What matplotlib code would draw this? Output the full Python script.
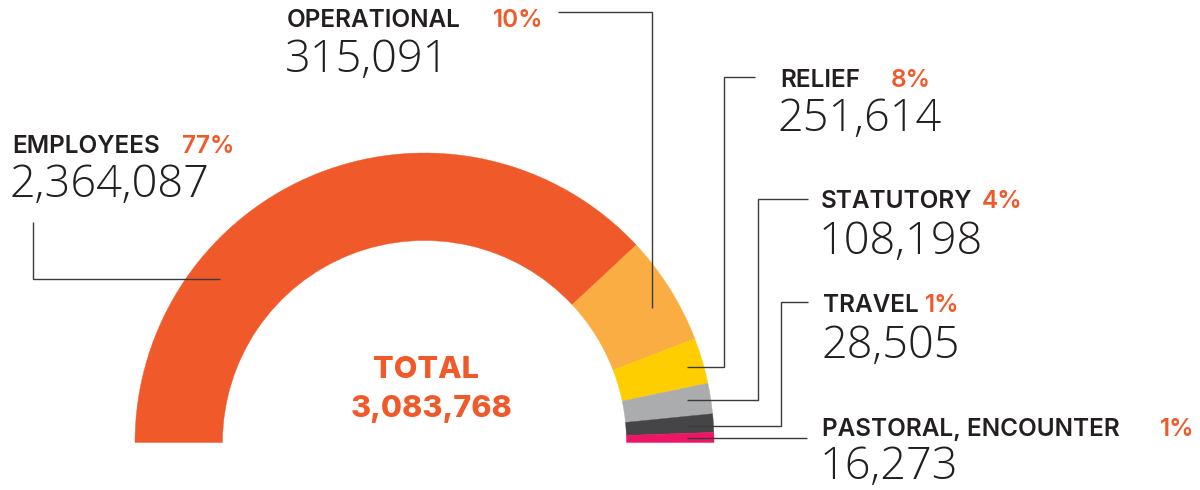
import matplotlib
matplotlib.use("Agg")
import matplotlib.pyplot as plt
from matplotlib.patches import Wedge

# ---- data ----
categories = ["EMPLOYEES", "OPERATIONAL", "RELIEF", "STATUTORY", "TRAVEL", "PASTORAL, ENCOUNTER"]
values = [2364087, 315091, 251614, 108198, 28505, 16273]
pct_labels = ["77%", "10%", "8%", "4%", "1%", "1%"]
# arc sizes as drawn in the reference (degrees, small segments enlarged)
arc_degrees = [137.0, 22.0, 9.2, 6.1, 3.7, 2.0]
total_label = "TOTAL"
total_value = sum(values)

colors = ["#F05A2A", "#FAAD42", "#FFCE00", "#ABACAE", "#454547", "#ED1566"]
DARK = "#231F20"
ORANGE = "#F05A2A"
LINE = "#3A3A3A"

W, H = 1200, 490
fig = plt.figure(figsize=(12, 4.9), dpi=100)
ax = fig.add_axes([0, 0, 1, 1])
ax.set_xlim(0, W)
ax.set_ylim(H, 0)
ax.axis("off")

cx, cy = 424.5, 442.5
R_out, R_in = 289.5, 202.0

start = 180.0
for deg, col in zip(arc_degrees, colors):
    w = Wedge((cx, cy), R_out, start, start + deg, width=R_out - R_in,
              facecolor=col, edgecolor=col, linewidth=0.3)
    ax.add_patch(w)
    start += deg

LAB_FONT = ["Inter", "DejaVu Sans"]
NUM_FONT = ["Open Sans", "DejaVu Sans"]
lab_size = 17.5
num_size = 32.5

# label positions: (x, label baseline, pct x, number baseline)
label_pos = [
    (12, 153, 182, 197),
    (287, 27, 493, 72),
    (780, 87, 891, 131),
    (821, 208, 982, 254),
    (823, 312, 925, 358),
    (822, 436, 1160, 479),
]

for cat, val, pct, (x, yb, px, nb) in zip(categories, values, pct_labels, label_pos):
    ax.text(x, yb, cat, fontsize=lab_size, fontfamily=LAB_FONT, fontweight="semibold",
            color=DARK, ha="left", va="baseline")
    ax.text(px, yb, pct, fontsize=lab_size, fontfamily=LAB_FONT, fontweight="semibold",
            color=ORANGE, ha="left", va="baseline")
    ax.text(x - 2, nb, f"{val:,}", fontsize=num_size, fontfamily=NUM_FONT, fontweight="light",
            color=DARK, ha="left", va="baseline")

# centre total
ax.text(426, 378, total_label, fontsize=22, fontfamily=LAB_FONT, fontweight="heavy",
        color=ORANGE, ha="center", va="baseline")
ax.text(432, 417, f"{total_value:,}", fontsize=22, fontfamily=LAB_FONT, fontweight="heavy",
        color=ORANGE, ha="center", va="baseline")

# leader lines
lw = 1.0
leaders = [
    ([33, 33, 220], [222, 279, 279]),
    ([558, 652, 652], [12, 12, 308]),
    ([755, 724, 724, 687], [77, 77, 367, 367]),
    ([808, 758, 758, 687], [199, 199, 400, 400]),
    ([808, 781, 781, 687], [302, 302, 426, 426]),
    ([687, 807], [438, 438]),
]
for xs, ys in leaders:
    ax.plot(xs, ys, color=LINE, lw=lw, solid_capstyle="butt", solid_joinstyle="miter")

fig.savefig("out.png", dpi=100, facecolor="white")
